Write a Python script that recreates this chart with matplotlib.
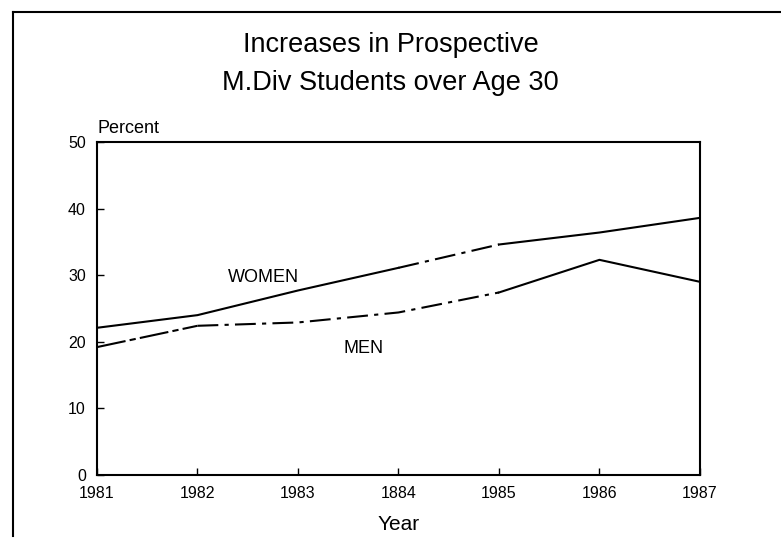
import matplotlib
matplotlib.use("Agg")
import matplotlib.pyplot as plt
from matplotlib.lines import Line2D

plt.rcParams['font.family'] = ['Liberation Sans', 'DejaVu Sans']

years = [1981, 1982, 1983, 1984, 1985, 1986, 1987]
year_labels = ['1981', '1982', '1983', '1884', '1985', '1986', '1987']
women = [22.1, 24.0, 27.7, 31.1, 34.6, 36.4, 38.6]
men = [19.2, 22.4, 22.9, 24.4, 27.4, 32.3, 29.0]
y_ticks = [0, 10, 20, 30, 40, 50]

fig = plt.figure(figsize=(7.81, 5.39), dpi=100)
ax = fig.add_axes([0.1242, 0.1187, 0.772, 0.618])

# broken look of the scanned lines: solid parts and dash-dot parts
ax.plot(years[:4], women[:4], color='black', lw=1.5)
ax.plot(years[3:5], women[3:5], color='black', lw=1.5, linestyle=(0, (10, 3, 2, 3)))
ax.plot(years[4:], women[4:], color='black', lw=1.5)

ax.plot(years[:2], men[:2], color='black', lw=1.5, linestyle=(0, (14, 2, 3, 2)))
ax.plot(years[1:5], men[1:5], color='black', lw=1.5, linestyle=(0, (10, 3, 2, 3)))
ax.plot(years[4:], men[4:], color='black', lw=1.5)

ax.text(1982.3, 29.6, 'WOMEN', fontsize=13, ha='left', va='center')
ax.text(1983.45, 19.0, 'MEN', fontsize=13, ha='left', va='center')

ax.set_xlim(1981, 1987)
ax.set_ylim(0, 50)
ax.set_xticks(years)
ax.set_xticklabels(year_labels, fontsize=11.5)
ax.set_yticks(y_ticks)
ax.set_yticklabels([str(t) for t in y_ticks], fontsize=11.5)
ax.tick_params(axis='both', direction='in', length=5, width=1)
ax.tick_params(axis='y', pad=8)
ax.tick_params(axis='x', pad=8)
for s in ax.spines.values():
    s.set_linewidth(1.5)

ax.set_xlabel('Year', fontsize=15, labelpad=10)
ax.text(0.0, 1.015, 'Percent', transform=ax.transAxes, fontsize=13,
        ha='left', va='bottom')

fig.text(0.5, 0.916, 'Increases in Prospective', fontsize=19.5,
         ha='center', va='center')
fig.text(0.5, 0.846, 'M.Div Students over Age 30', fontsize=19.5,
         ha='center', va='center')

# page frame from the scan
fig.add_artist(Line2D([13 / 781, 1.0], [1 - 12 / 539, 1 - 12 / 539],
                      transform=fig.transFigure, color='black', lw=1.5))
fig.add_artist(Line2D([13 / 781, 13 / 781], [1 - 12 / 539, 0.005],
                      transform=fig.transFigure, color='black', lw=1.5))

fig.savefig('out.png', dpi=100)
